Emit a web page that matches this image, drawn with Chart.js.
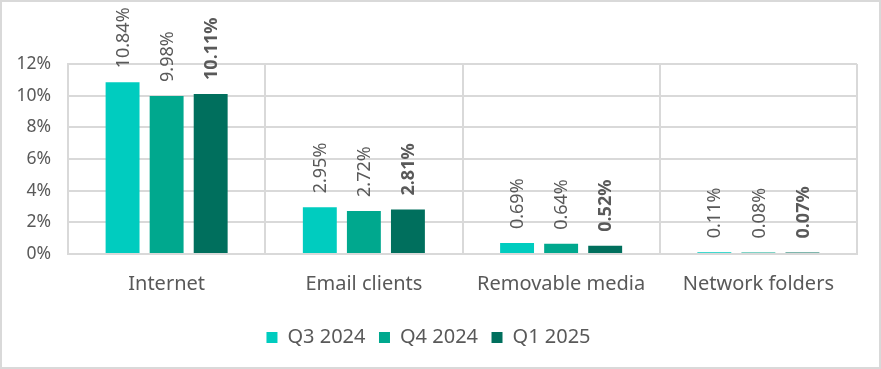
<!DOCTYPE html>
<html>
<head>
<meta charset="utf-8">
<script src="https://cdn.jsdelivr.net/npm/chart.js@4.4.0/dist/chart.umd.min.js"></script>
<style>
  html, body { margin: 0; padding: 0; background: #fff; }
  #wrap { width: 881px; height: 369px; position: relative; }
</style>
</head>
<body>
<div id="wrap"><canvas id="chart" width="881" height="369"></canvas></div>
<script>
const categories = ['Internet', 'Email clients', 'Removable media', 'Network folders'];
const q3_2024 = [10.84, 2.95, 0.69, 0.11];
const q4_2024 = [9.98, 2.72, 0.64, 0.08];
const q1_2025 = [10.11, 2.81, 0.52, 0.07];
const seriesNames = ['Q3 2024', 'Q4 2024', 'Q1 2025'];
const colors = ['#00ccbf', '#00a88e', '#006f5d'];

const FONT = '"Noto Sans", "Open Sans", sans-serif';
const TEXT = '#595959';
const GRID = '#d9d9d9';

// value labels, rotated, above each bar
const barLabels = {
  id: 'barLabels',
  afterDatasetsDraw(chart) {
    const ctx = chart.ctx;
    chart.data.datasets.forEach((ds, i) => {
      const meta = chart.getDatasetMeta(i);
      meta.data.forEach((bar, j) => {
        ctx.save();
        ctx.translate(bar.x + 1, bar.y - 14);
        ctx.rotate(-Math.PI / 2);
        ctx.font = (i === 2 ? 'bold ' : '') + '18px ' + FONT;
        ctx.fillStyle = TEXT;
        ctx.textAlign = 'left';
        ctx.textBaseline = 'middle';
        ctx.fillText(ds.data[j].toFixed(2) + '%', 0, 0);
        ctx.restore();
      });
    });
  }
};

const frame = {
  id: 'frame',
  beforeDraw(chart) {
    const ctx = chart.ctx;
    ctx.save();
    ctx.fillStyle = '#fff';
    ctx.fillRect(0, 0, chart.width, chart.height);
    ctx.strokeStyle = GRID;
    ctx.lineWidth = 2;
    ctx.strokeRect(1, 1, chart.width - 2, chart.height - 2);
    ctx.restore();
  }
};

new Chart(document.getElementById('chart'), {
  type: 'bar',
  data: {
    labels: categories,
    datasets: [q3_2024, q4_2024, q1_2025].map((d, i) => ({
      label: seriesNames[i],
      data: d,
      backgroundColor: colors[i],
      categoryPercentage: 0.67,
      barPercentage: 0.77,
      minBarLength: 1.5
    }))
  },
  options: {
    responsive: false,
    animation: false,
    layout: { padding: { top: 64, right: 24, left: 0, bottom: 11.5 } },
    plugins: {
      tooltip: { enabled: false },
      legend: {
        position: 'bottom',
        labels: {
          boxWidth: 11,
          boxHeight: 11,
          padding: 13.5,
          color: TEXT,
          font: { family: FONT, size: 20 }
        }
      }
    },
    scales: {
      x: {
        grid: { color: GRID, lineWidth: 2, drawTicks: false, offset: true },
        border: { color: GRID, width: 2 },
        ticks: { color: TEXT, padding: 18, font: { family: FONT, size: 20 } }
      },
      y: {
        min: 0,
        max: 12,
        afterFit(scale) { scale.width = 68; },
        grid: { color: GRID, lineWidth: 2, drawTicks: false },
        border: { color: GRID, width: 2 },
        ticks: {
          stepSize: 2,
          padding: 17,
          color: TEXT,
          font: { family: FONT, size: 17.5 },
          callback: v => v + '%'
        }
      }
    }
  },
  plugins: [frame, barLabels]
});
</script>
</body>
</html>
